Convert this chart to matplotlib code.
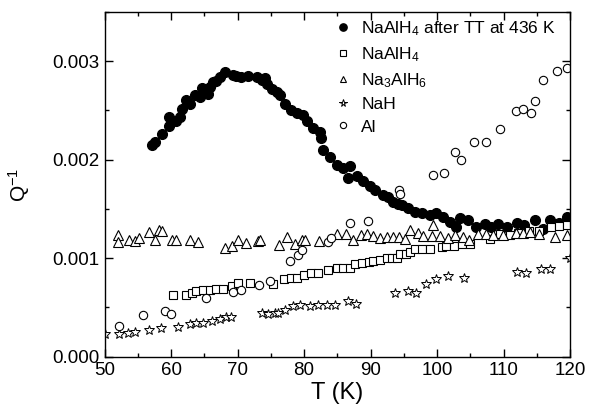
import matplotlib
matplotlib.use("Agg")
import matplotlib.pyplot as plt
from matplotlib.ticker import MultipleLocator, FormatStrFormatter

plt.rcParams['font.family'] = ['Liberation Sans', 'DejaVu Sans']
plt.rcParams['mathtext.fontset'] = 'custom'
plt.rcParams['mathtext.rm'] = 'Liberation Sans'
plt.rcParams['mathtext.it'] = 'Liberation Sans'

# NaAlH4 after TT at 436 K (filled circles)
tt_T = [57.1, 57.6, 58.6, 59.6, 59.6, 60.8, 61.3, 61.6, 62.3, 62.8, 63.6, 64.3, 64.6, 65.6, 65.8,
        66.3, 66.8, 67.3, 68.1, 69.3, 69.8, 70.5, 71.6, 72.9, 73.6, 74.1, 74.4, 75.1, 75.9,
        76.4, 77.1, 78.1, 78.9, 79.9, 80.4, 81.4, 82.4, 82.6, 82.9, 83.9, 84.9, 85.9, 86.9,
        86.6, 87.9, 88.9, 89.9, 90.6, 91.9, 92.6, 93.4, 94.1, 94.7, 95.7, 96.7, 97.7, 98.9,
        99.9, 100.9, 101.9, 102.9, 103.4, 104.7, 105.9, 107.2, 108.1, 109.2, 110.5, 112.0,
        113.1, 114.7, 115.9, 117.0, 118.4, 119.5]
tt_Q = [0.00215, 0.00218, 0.00226, 0.00234, 0.00243, 0.00239, 0.00243, 0.00252, 0.00261, 0.00257,
        0.00266, 0.00264, 0.00273, 0.00267, 0.00274, 0.00279, 0.00280, 0.00284, 0.00289, 0.00286,
        0.00285, 0.00284, 0.00285, 0.00284, 0.00281, 0.00283, 0.00277, 0.00272, 0.00269,
        0.00266, 0.00257, 0.00250, 0.00247, 0.00245, 0.00239, 0.00232, 0.00228, 0.00222, 0.00210,
        0.00203, 0.00195, 0.00192, 0.00194, 0.00181, 0.00183, 0.00178, 0.00173, 0.00169, 0.00164,
        0.00162, 0.00157, 0.00155, 0.00154, 0.00151, 0.00147, 0.00146, 0.00144, 0.00146, 0.00142,
        0.00137, 0.00132, 0.00141, 0.00139, 0.00132, 0.00135, 0.00132, 0.00135, 0.00132, 0.00136,
        0.00134, 0.00139, 0.00130, 0.00139, 0.00136, 0.00142]

# NaAlH4 (open squares)
na_T = [60.3, 62.2, 63.1, 63.8, 64.8, 65.8, 66.8, 67.8, 69.1, 70.1, 71.9, 75.3, 76.9, 78.0, 79.0,
        80.0, 81.0, 82.1, 83.6, 84.9, 85.9, 86.9, 87.6, 88.7, 89.7, 90.4, 91.4, 92.4, 93.2, 93.9,
        94.4, 95.4, 95.9, 96.7, 97.7, 98.9, 100.7, 101.4, 102.5, 103.7, 104.9, 107.9, 109.4,
        110.9, 112.2, 113.9, 115.4, 117.2, 118.4, 119.5]
na_Q = [0.000626, 0.000626, 0.000644, 0.00067, 0.00068, 0.00068, 0.00069, 0.00069, 0.00072, 0.00075,
        0.00075, 0.00074, 0.00079, 0.00080, 0.00080, 0.00083, 0.00085, 0.00085, 0.00088, 0.00090,
        0.00090, 0.00090, 0.00094, 0.00095, 0.00096, 0.00097, 0.00098, 0.00100, 0.00100, 0.00100,
        0.00104, 0.00104, 0.00106, 0.00109, 0.00109, 0.00109, 0.00111, 0.00112, 0.00112, 0.00114,
        0.00114, 0.00120, 0.00125, 0.00124, 0.00126, 0.00128, 0.00128, 0.00132, 0.00133, 0.00134]

# Na3AlH6 (open triangles)
n3_T = [52.0, 52.0, 53.6, 54.6, 55.2, 56.6, 57.5, 58.1, 58.6, 60.1, 60.7, 62.8, 64.1, 68.1, 69.1,
        70.0, 71.3, 73.0, 73.3, 76.2, 77.4, 78.7, 79.7, 80.2, 82.3, 85.0, 86.3, 87.4, 88.6, 89.4,
        90.4, 91.4, 92.4, 93.4, 94.2, 95.2, 95.9, 97.1, 97.9, 99.2, 99.4, 100.4, 101.7, 102.7,
        103.9, 104.8, 106.2, 107.4, 108.4, 109.9, 111.9, 112.9, 114.0, 115.4, 117.7, 119.5]
n3_Q = [0.00124, 0.00116, 0.00118, 0.00117, 0.00121, 0.00127, 0.00118, 0.00129, 0.00128, 0.00118,
        0.00118, 0.00118, 0.00116, 0.00110, 0.00112, 0.00118, 0.00115, 0.00117, 0.00118, 0.00113,
        0.00122, 0.00114, 0.00118, 0.00118, 0.00117, 0.00125, 0.00125, 0.00119, 0.00124, 0.00125,
        0.00123, 0.00121, 0.00122, 0.00122, 0.00122, 0.00120, 0.00129, 0.00126, 0.00123, 0.00123,
        0.00134, 0.00123, 0.00121, 0.00124, 0.00122, 0.00119, 0.00125, 0.00125, 0.00124, 0.00124,
        0.00126, 0.00126, 0.00127, 0.00125, 0.00122, 0.00124]

# NaH (open stars)
nh_T = [50.0, 52.2, 53.5, 54.6, 56.6, 58.4, 61.1, 62.8, 63.8, 64.8, 66.2, 67.3, 68.3, 69.0, 73.6,
        74.6, 75.6, 76.1, 77.1, 78.4, 79.4, 80.9, 82.1, 83.4, 84.6, 86.6, 87.8, 93.7, 95.7, 96.9,
        98.3, 99.9, 101.7, 104.1, 112.0, 113.4, 115.6, 117.0, 120.0]
nh_Q = [0.00023, 0.00023, 0.00024, 0.00025, 0.00027, 0.00029, 0.00030, 0.00033, 0.00034, 0.00034,
        0.00036, 0.00038, 0.00040, 0.00040, 0.00044, 0.00043, 0.00044, 0.00044, 0.00047, 0.00051,
        0.00052, 0.00051, 0.00052, 0.00052, 0.00052, 0.00057, 0.00054, 0.00065, 0.00067, 0.00065,
        0.00074, 0.00079, 0.00082, 0.00080, 0.00086, 0.00085, 0.00089, 0.00089, 0.00100]

# Al (open circles)
al_T = [52.2, 55.7, 59.1, 60.0, 65.3, 69.3, 70.5, 73.2, 74.8, 77.9, 79.1, 79.7, 83.6, 84.1, 86.9,
        89.6, 94.3, 94.4, 99.4, 101.0, 102.7, 103.6, 105.5, 107.3, 109.4, 111.9, 112.9, 114.1,
        114.7, 116.0, 118.1, 119.6]
al_Q = [0.00031, 0.00042, 0.00046, 0.00043, 0.00060, 0.00066, 0.00068, 0.00073, 0.00077, 0.00097,
        0.00103, 0.00108, 0.00116, 0.00121, 0.00136, 0.00138, 0.00169, 0.00165, 0.00184, 0.00187,
        0.00208, 0.00200, 0.00218, 0.00218, 0.00231, 0.00249, 0.00252, 0.00247, 0.00260, 0.00281,
        0.00290, 0.00293]

labels = ["NaAlH$_4$ after TT at 436 K", "NaAlH$_4$", "Na$_3$AlH$_6$", "NaH", "Al"]

fig = plt.figure(figsize=(5.94, 4.12), dpi=100)
ax = fig.add_axes([104.7/594, 1 - 356.7/412, (570 - 104.7)/594, (356.7 - 12)/412])

ax.plot(tt_T, tt_Q, 'o', color='black', ms=7, ls='none', label=labels[0])
ax.plot(na_T, na_Q, 's', mfc='white', mec='black', mew=0.8, ms=5.5, ls='none', label=labels[1])
ax.plot(n3_T, n3_Q, '^', mfc='white', mec='black', mew=0.8, ms=6.5, ls='none', label=labels[2])
ax.plot(nh_T, nh_Q, '*', mfc='white', mec='black', mew=0.7, ms=7.5, ls='none', label=labels[3])
ax.plot(al_T, al_Q, 'o', mfc='white', mec='black', mew=0.8, ms=6, ls='none', label=labels[4])

ax.set_xlim(50, 120)
ax.set_ylim(0, 0.0035)
ax.xaxis.set_major_locator(MultipleLocator(10))
ax.xaxis.set_minor_locator(MultipleLocator(5))
ax.yaxis.set_major_locator(MultipleLocator(0.001))
ax.yaxis.set_minor_locator(MultipleLocator(0.0005))
ax.yaxis.set_major_formatter(FormatStrFormatter('%.3f'))
ax.tick_params(which='both', direction='in', top=True, right=True, labelsize=13.5, width=1)
ax.tick_params(which='major', length=6, pad=4)
ax.tick_params(which='minor', length=3)
for s in ax.spines.values():
    s.set_linewidth(1)

ax.set_xlabel("T (K)", fontsize=17, labelpad=2)
ax.set_ylabel("Q$^{-1}$", fontsize=15, labelpad=14)

leg = ax.legend(loc='upper right', bbox_to_anchor=(553/594 + 0.005, 1 - 19/412),
                bbox_transform=fig.transFigure, frameon=False, fontsize=12.5,
                handletextpad=0.45, labelspacing=0.42, borderaxespad=0.0, borderpad=0.0,
                markerscale=0.75, handlelength=1.2)

fig.savefig("out.png", dpi=100)
